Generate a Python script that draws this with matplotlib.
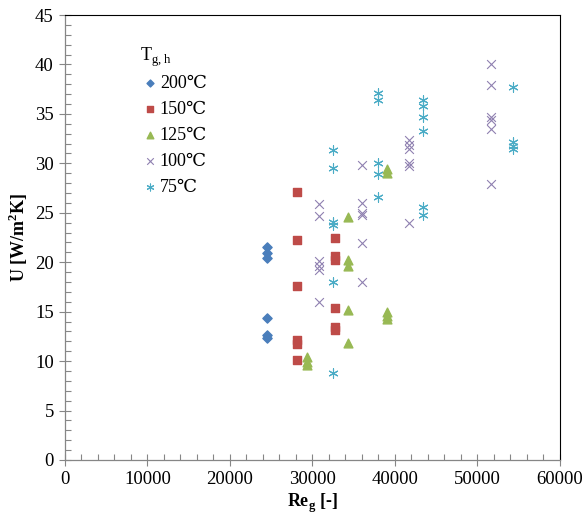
import numpy as np
import matplotlib
matplotlib.use('Agg')
import matplotlib.pyplot as plt
from matplotlib.ticker import MultipleLocator

plt.rcParams['font.family'] = ['Liberation Serif', 'DejaVu Serif']

# 200 C
re_200 = [24500, 24500, 24500, 24500, 24500, 24500]
u_200 = [21.5, 20.9, 20.4, 14.4, 12.6, 12.3]
# 150 C
re_150 = [28100, 28100, 28100, 28100, 28100, 28100,
          32800, 32800, 32800, 32800, 32800, 32800]
u_150 = [27.1, 22.2, 17.6, 12.1, 11.7, 10.1,
         22.5, 20.6, 20.2, 15.4, 13.4, 13.1]
# 125 C
re_125 = [29300, 29300, 29300,
          34300, 34300, 34300, 34300, 34300,
          39100, 39100, 39100, 39100, 39100]
u_125 = [10.4, 9.9, 9.6,
         24.6, 20.2, 19.6, 15.2, 11.8,
         29.4, 29.0, 15.0, 14.6, 14.3]
# 100 C
re_100 = [30800, 30800, 30800, 30800, 30800, 30800,
          36000, 36000, 36000, 36000, 36000, 36000,
          41700, 41700, 41700, 41700, 41700, 41700,
          51600, 51600, 51600, 51600, 51600, 51600]
u_100 = [25.9, 24.7, 20.1, 19.6, 19.2, 16.0,
         29.8, 26.0, 25.0, 24.8, 21.9, 18.0,
         32.4, 31.9, 31.5, 30.0, 29.7, 24.0,
         40.0, 37.9, 34.7, 34.4, 33.5, 27.9]
# 75 C
re_75 = [32500, 32500, 32500, 32500, 32500, 32500,
         38000, 38000, 38000, 38000, 38000,
         43400, 43400, 43400, 43400, 43400, 43400,
         54300, 54300, 54300, 54300]
u_75 = [31.3, 29.5, 24.1, 23.8, 18.0, 8.8,
        37.1, 36.4, 30.0, 28.9, 26.6,
        36.4, 35.8, 34.7, 33.3, 25.6, 24.8,
        37.7, 32.2, 31.8, 31.4]

fig = plt.figure(figsize=(5.88, 5.18), dpi=100)
ax = fig.add_axes([0.1105, 0.112, 0.8415, 0.859])

ax.scatter(re_200, u_200, marker='D', s=22, color='#4A7EBB', label='200\u2103', zorder=3)
ax.scatter(re_150, u_150, marker='s', s=40, color='#BE4B48', label='150\u2103', zorder=3)
ax.scatter(re_125, u_125, marker='^', s=40, color='#98B954', label='125\u2103', zorder=3)
ax.scatter(re_100, u_100, marker='x', s=40, color='#8F80B0', linewidths=0.8, label='100\u2103', zorder=3)
ax.scatter(re_75, u_75, marker=(6, 2, 0), s=45, color='#4BACC6', linewidths=0.8, label='75\u2103', zorder=3)

ax.set_xlim(0, 60000)
ax.set_ylim(0, 45)
ax.xaxis.set_major_locator(MultipleLocator(10000))
ax.xaxis.set_minor_locator(MultipleLocator(2000))
ax.yaxis.set_major_locator(MultipleLocator(5))
ax.yaxis.set_minor_locator(MultipleLocator(1))
ax.tick_params(which='major', direction='inout', length=8, width=0.8, color='#868686',
               labelsize=13.5, pad=4)
ax.tick_params(which='minor', direction='in', length=4, width=0.8, color='#868686')

for side in ['left', 'bottom']:
    ax.spines[side].set_color('#868686')
    ax.spines[side].set_linewidth(0.9)
for side in ['top', 'right']:
    ax.spines[side].set_color('black')
    ax.spines[side].set_linewidth(0.8)

ax.set_xlabel('Re$_\\mathregular{g}$ [-]', fontsize=13, fontweight='bold', labelpad=3)
ax.set_ylabel('U [W/m$^\\mathregular{2}$K]', fontsize=13, fontweight='bold', labelpad=4)

leg = ax.legend(loc='upper left', bbox_to_anchor=(0.137, 0.947), frameon=False,
                fontsize=13, handletextpad=0.0, handlelength=1.1, markerscale=0.75,
                labelspacing=0.5, borderaxespad=0,
                title='T$_\\mathregular{g,h}$', title_fontsize=13)
leg._legend_box.align = 'left'
leg._legend_box.sep = 4

fig.savefig('out.png', dpi=100)
